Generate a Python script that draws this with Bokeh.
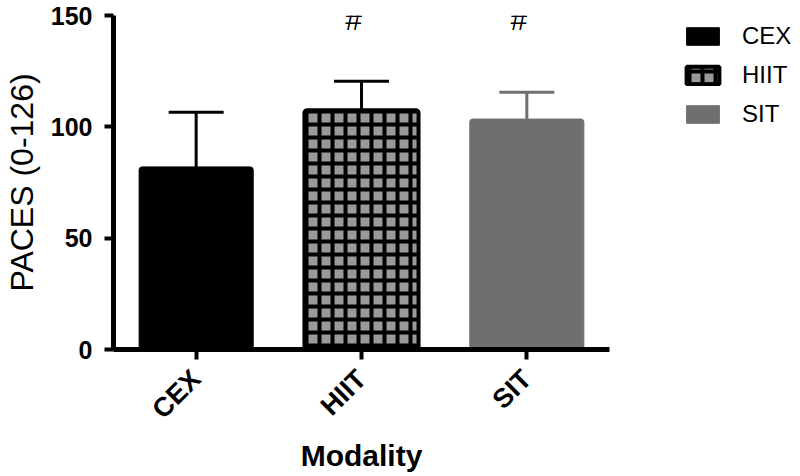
import math
from bokeh.plotting import figure
from bokeh.layouts import row
from bokeh.models import (ColumnDataSource, FactorRange, Range1d, FixedTicker,
                          Whisker, TeeHead, Legend, LegendItem)
from bokeh.embed import file_html
from bokeh.resources import INLINE
from bokeh.core.properties import value

# ---- data ----
modality = ["CEX", "HIIT", "SIT"]
paces_mean = [82.0, 107.5, 103.5]
paces_sd = [24.5, 13.0, 12.0]
sig_marks = ["", "#", "#"]
y_ticks = [0, 50, 100, 150]

# ---- styles ----
bar_fill = ["#000000", "#9a9a9a", "#6f6f6f"]
bar_line = ["#000000", "#000000", "#6f6f6f"]
bar_line_w = [1, 4, 1]
bar_hatch = [" ", "cross", " "]
err_color = ["#000000", "#000000", "#6f6f6f"]
FONT = "Liberation Sans"


def bar_kwargs(i):
    return dict(width=0.69, fill_color=bar_fill[i], line_color=bar_line[i],
                line_width=bar_line_w[i], border_radius=3,
                hatch_pattern=bar_hatch[i], hatch_color="#000000",
                hatch_scale=13, hatch_weight=4)


p = figure(x_range=FactorRange(factors=modality, range_padding=0),
           y_range=Range1d(0, 150),
           width=620, height=476, output_backend="svg", toolbar_location=None,
           min_border_left=106, min_border_top=15, min_border_right=11,
           min_border_bottom=127)
p.outline_line_color = None
p.xgrid.visible = False
p.ygrid.visible = False

for i, m in enumerate(modality):
    src = ColumnDataSource(dict(x=[m], top=[paces_mean[i]]))
    p.vbar(x="x", top="top", source=src, **bar_kwargs(i))
    esrc = ColumnDataSource(dict(x=[m], lo=[paces_mean[i]], hi=[paces_mean[i] + paces_sd[i]]))
    w = Whisker(base="x", lower="lo", upper="hi", source=esrc, dimension="height",
                line_color=err_color[i], line_width=3, lower_head=None,
                upper_head=TeeHead(size=55, line_width=3, line_color=err_color[i]))
    p.add_layout(w)

sig_src = ColumnDataSource(dict(x=modality, y=[y_ticks[-1] - 2] * len(modality), t=sig_marks))
p.text(x="x", y="y", text="t", source=sig_src, text_font=value(FONT),
       text_font_size="30px", text_align="center", text_baseline="middle",
       text_color="#000000", x_offset=-8)

# axes
for ax in (p.xaxis[0], p.yaxis[0]):
    ax.axis_line_width = 5
    ax.axis_line_color = "#000000"
    ax.major_tick_line_width = 4
    ax.major_tick_line_color = "#000000"
    ax.major_tick_in = 0
    ax.minor_tick_line_color = None
    ax.major_label_text_font = FONT
    ax.major_label_text_font_style = "bold"
    ax.major_label_text_color = "#000000"
    ax.axis_label_text_color = "#000000"
    ax.axis_label_text_font = FONT

p.yaxis.ticker = FixedTicker(ticks=y_ticks)
p.yaxis.major_tick_out = 9
p.yaxis.major_label_text_font_size = "25px"
p.yaxis.major_label_standoff = 12
p.yaxis.axis_label = "PACES (0-126)"
p.yaxis.axis_label_text_font_size = "32px"
p.yaxis.axis_label_text_font_style = "normal"
p.yaxis.axis_label_standoff = 8

p.xaxis.major_tick_out = 10
p.xaxis.major_label_orientation = math.pi / 4
p.xaxis.major_label_text_font_size = "27px"
p.xaxis.major_label_standoff = 15
p.xaxis.axis_label = "Modality"
p.xaxis.axis_label_text_font_size = "30px"
p.xaxis.axis_label_text_font_style = "bold"
p.xaxis.axis_label_standoff = 1

# ---- legend panel: same bar styles; its x range has none of the bar factors,
# so no bar is drawn there and only the legend glyphs show ----
p2 = figure(x_range=FactorRange(factors=["legend"]), y_range=Range1d(0, 150),
            width=180, height=476, output_backend="svg", toolbar_location=None,
            x_axis_location=None, y_axis_location=None, min_border=0)
p2.outline_line_color = None
p2.grid.visible = False

items = []
for i, m in enumerate(modality):
    src = ColumnDataSource(dict(x=[m], top=[paces_mean[i]]))
    r = p2.vbar(x="x", top="top", source=src, **bar_kwargs(i))
    items.append(LegendItem(label=m, renderers=[r]))

legend = Legend(items=items, location=(62, 221), orientation="vertical",
                glyph_width=41, glyph_height=22, label_height=22,
                label_standoff=19, spacing=11, padding=0, margin=0,
                border_line_color=None, background_fill_alpha=0,
                label_text_font=FONT, label_text_font_size="24px",
                label_text_color="#000000", label_text_baseline="middle")
p2.add_layout(legend, "center")

open("out.html", "w").write(file_html(row(p, p2), INLINE))
